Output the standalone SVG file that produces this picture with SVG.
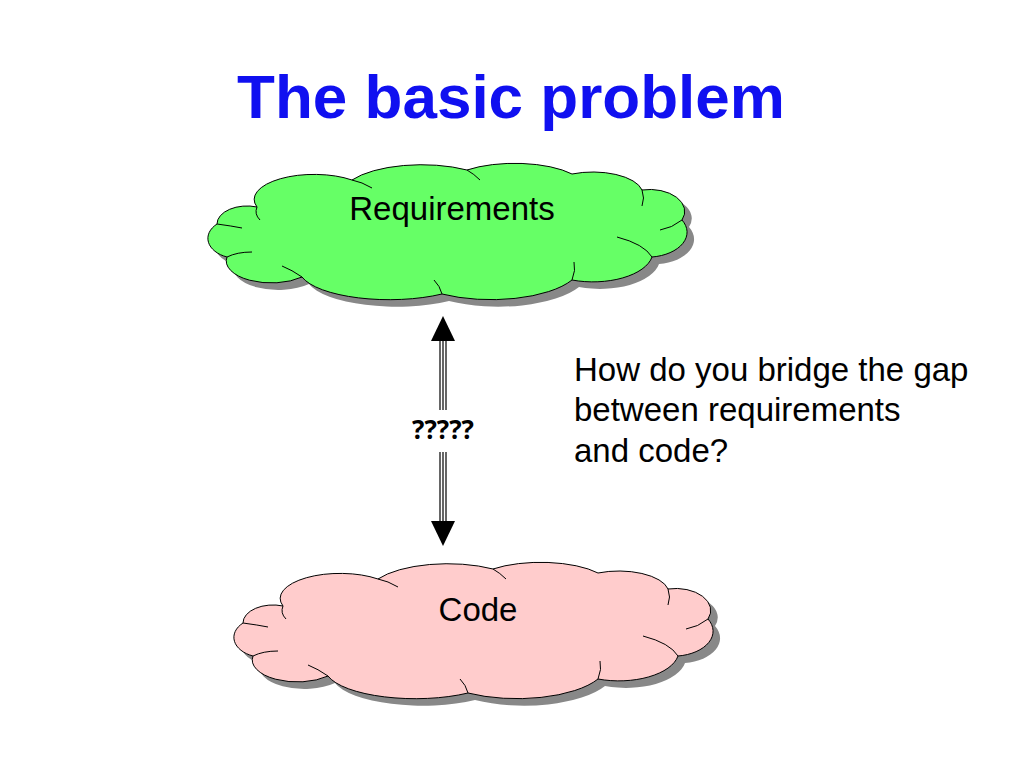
<svg xmlns="http://www.w3.org/2000/svg" xmlns:xlink="http://www.w3.org/1999/xlink" width="1024" height="768" viewBox="0 0 1024 768">
<style>
.t{font-family:"Liberation Sans",Arial,sans-serif;fill:#000}
.inner{fill:none;stroke:#000;stroke-width:1}
</style>
<defs>
<path id="cloud" d="M45,45 A60,25 0 0 1 140,18 A80,30 0 0 1 255,8 A70,25 0 0 1 360,12 A50,22 0 0 1 430,28 A35,22 0 0 1 470,58 A40,25 0 0 1 440,95 A60,30 0 0 1 360,118 A90,35 0 0 1 230,132 A90,30 0 0 1 90,115 A45,22 0 0 1 15,95 A30,20 0 0 1 5,62 A30,18 0 0 1 45,45 Z"/>
<g id="cloudInner" class="inner">
<path d="M45,45 Q42,52 48,58"/>
<path d="M140,18 Q150,20 160,26"/>
<path d="M255,8 Q262,12 268,18"/>
<path d="M430,28 Q433,36 430,44"/>
<path d="M470,58 Q460,66 448,68"/>
<path d="M440,95 Q432,82 405,75"/>
<path d="M360,118 Q364,108 362,100"/>
<path d="M230,132 Q228,124 222,118"/>
<path d="M90,115 Q80,108 70,104"/>
<path d="M15,95 Q25,90 40,90"/>
<path d="M5,62 Q20,64 30,66"/>
</g>
</defs>
<rect width="1024" height="768" fill="#fff"/>
<text x="511" y="118" text-anchor="middle" style="font-family:'Liberation Sans',Arial,sans-serif;font-weight:bold;font-size:62px;fill:#1010f0">The basic problem</text>
<g id="requirements" transform="translate(212,162)">
<use xlink:href="#cloud" transform="translate(7,7)" fill="#888"/>
<use xlink:href="#cloud" fill="#66ff66" stroke="#000" stroke-width="1"/>
<use xlink:href="#cloudInner"/>
<text class="t" x="240" y="58" text-anchor="middle" font-size="33">Requirements</text>
</g>
<g id="code" transform="translate(238,561)">
<use xlink:href="#cloud" transform="translate(7,7)" fill="#888"/>
<use xlink:href="#cloud" fill="#ffcccc" stroke="#000" stroke-width="1"/>
<use xlink:href="#cloudInner"/>
<text class="t" x="240" y="60" text-anchor="middle" font-size="33">Code</text>
</g>
<g id="connectors">
<g stroke="#000" stroke-width="1.2">
<line x1="440" y1="338" x2="440" y2="410"/><line x1="443" y1="338" x2="443" y2="410"/><line x1="446" y1="338" x2="446" y2="410"/>
<line x1="440" y1="452" x2="440" y2="524"/><line x1="443" y1="452" x2="443" y2="524"/><line x1="446" y1="452" x2="446" y2="524"/>
</g>
<polygon points="443,316 431,341 455,341" fill="#000"/>
<polygon points="443,546 431,521 455,521" fill="#000"/>
<text x="443" y="439" text-anchor="middle" style="font-family:'Open Sans','DejaVu Sans',sans-serif;font-weight:bold;font-size:26px">?????</text>
</g>
<g id="question" class="t" font-size="33">
<text x="574" y="381">How do you bridge the gap</text>
<text x="574" y="421">between requirements</text>
<text x="574" y="462">and code?</text>
</g>
</svg>
